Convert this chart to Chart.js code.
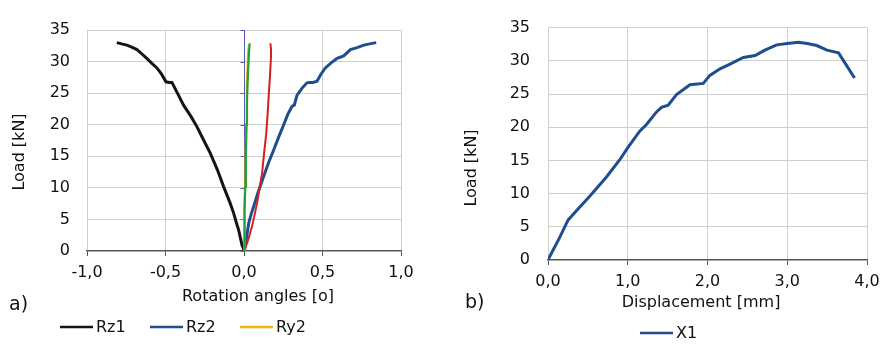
<!DOCTYPE html>
<html>
<head>
<meta charset="utf-8">
<script src="https://cdn.jsdelivr.net/npm/chart.js@4.4.0/dist/chart.umd.min.js"></script>
<style>
  html, body { margin: 0; padding: 0; background: #fff; }
  #wrap { position: relative; width: 880px; height: 345px; }
  canvas { position: absolute; top: 0; }
</style>
</head>
<body>
<div id="wrap">
  <canvas id="chartA" width="440" height="345" style="left:0"></canvas>
  <canvas id="chartB" width="440" height="345" style="left:440px"></canvas>
</div>
<script>
// --- a) rotation angles ---
const rz1Angle = [0, -0.005, -0.013, -0.022, -0.034, -0.05, -0.066, -0.09, -0.13, -0.17, -0.215, -0.26, -0.30, -0.34, -0.385, -0.42, -0.459, -0.475, -0.497, -0.525, -0.555, -0.59, -0.619, -0.65, -0.682, -0.715, -0.746, -0.78, -0.81];
const rz1Load  = [0, 0.5, 0.95, 2.0, 3.3, 4.6, 6.0, 7.7, 10.2, 12.9, 15.5, 17.7, 19.7, 21.4, 23.1, 24.8, 26.7, 26.7, 26.8, 28.0, 29.0, 29.8, 30.5, 31.2, 31.9, 32.3, 32.6, 32.8, 33.0];

const rz2Angle = [0, 0.004, 0.008, 0.018, 0.030, 0.045, 0.061, 0.09, 0.125, 0.155, 0.189, 0.22, 0.253, 0.28, 0.306, 0.32, 0.338, 0.37, 0.40, 0.412, 0.44, 0.465, 0.49, 0.518, 0.555, 0.593, 0.635, 0.678, 0.72, 0.763, 0.80, 0.842];
const rz2Load  = [0, 0.4, 0.7, 2.5, 4.4, 5.8, 7.0, 9.3, 11.8, 13.9, 16.0, 18.0, 20.0, 21.7, 22.9, 23.1, 24.7, 25.8, 26.6, 26.7, 26.7, 26.9, 28.0, 29.0, 29.8, 30.5, 30.9, 31.9, 32.2, 32.6, 32.8, 33.0];

const ry2Angle = [0, 0.001, 0.004, 0.007, 0.010, 0.014, 0.019, 0.024, 0.028, 0.030];
const ry2Load  = [0, 2.5, 7.0, 10.5, 13.4, 20.0, 26.6, 30.0, 32.0, 32.6];

const greenAngle = [0, 0.002, 0.005, 0.008, 0.012, 0.016, 0.019, 0.025, 0.031, 0.036];
const greenLoad  = [0, 2.8, 6.5, 10.2, 15.0, 20.0, 23.9, 28.0, 31.0, 32.9];

const redAngle = [0, 0.008, 0.019, 0.035, 0.051, 0.07, 0.087, 0.10, 0.115, 0.128, 0.142, 0.15, 0.157, 0.165, 0.172, 0.172, 0.168];
const redLoad  = [0, 0.5, 1.2, 2.5, 3.9, 6.0, 8.1, 10.2, 12.3, 15.5, 18.7, 21.5, 24.5, 27.5, 30.8, 32.0, 32.9];

// --- b) displacement ---
const x1Disp = [0, 0.02, 0.147, 0.251, 0.356, 0.523, 0.733, 0.90, 1.005, 1.15, 1.235, 1.361, 1.424, 1.507, 1.612, 1.78, 1.947, 2.03, 2.157, 2.282, 2.45, 2.596, 2.72, 2.868, 3.00, 3.14, 3.25, 3.37, 3.497, 3.643, 3.844];
const x1Load = [0, 0.5, 3.4, 6.0, 7.4, 9.6, 12.5, 15.1, 17.0, 19.4, 20.4, 22.3, 23.0, 23.3, 24.9, 26.4, 26.6, 27.8, 28.8, 29.5, 30.5, 30.8, 31.6, 32.4, 32.6, 32.8, 32.6, 32.3, 31.6, 31.2, 27.4];

const loadTicks = { min: 0, max: 35, step: 5 };

const FONT = "'DejaVu Sans', sans-serif";
const TEXT = '#111111';
const GRID = '#cfcfcf';
const AXIS = '#555555';

Chart.defaults.font.family = FONT;
Chart.defaults.color = TEXT;

const fmt = v => v.toFixed(1).replace('.', ',');
const toPoints = (xs, ys) => xs.map((x, i) => ({ x: x, y: ys[i] }));

const series = (label, xs, ys, color, width, order) => ({
    label: label,
    data: toPoints(xs, ys),
    borderColor: color,
    backgroundColor: color,
    borderWidth: width,
    showLine: true,
    pointRadius: 0,
    tension: 0,
    order: order
});

// titles, panel letter and legend drawn by hand so they sit where the original has them
const decor = {
    id: 'decor',
    afterDraw(chart, args, o) {
        const ctx = chart.ctx;
        ctx.save();
        ctx.fillStyle = TEXT;
        ctx.textBaseline = 'middle';
        ctx.font = `16px ${FONT}`;
        ctx.textAlign = 'center';
        ctx.fillText(o.xTitle, o.xTitleAt[0], o.xTitleAt[1]);

        ctx.save();
        ctx.translate(o.yTitleAt[0], o.yTitleAt[1]);
        ctx.rotate(-Math.PI / 2);
        ctx.fillText(o.yTitle, 0, 0);
        ctx.restore();

        ctx.font = `19px ${FONT}`;
        ctx.textAlign = 'left';
        ctx.fillText(o.panel, o.panelAt[0], o.panelAt[1]);

        ctx.font = `16px ${FONT}`;
        o.legend.forEach(item => {
            const ds = chart.data.datasets[item.index];
            ctx.strokeStyle = ds.borderColor;
            ctx.lineWidth = 2.5;
            ctx.beginPath();
            ctx.moveTo(item.x, o.legendY);
            ctx.lineTo(item.x + 33, o.legendY);
            ctx.stroke();
            ctx.fillStyle = TEXT;
            ctx.fillText(ds.label, item.x + 36, o.legendY + 1);
        });
        ctx.restore();
    }
};

// the thin vertical axis Excel drew at x = 0 in panel a)
const zeroAxis = {
    id: 'zeroAxis',
    beforeDatasetsDraw(chart) {
        const xs = chart.scales.x, ys = chart.scales.y;
        const px = Math.round(xs.getPixelForValue(0)) + 0.5;
        const ctx = chart.ctx;
        ctx.save();
        ctx.strokeStyle = '#5a5ab4';
        ctx.lineWidth = 1;
        ctx.beginPath();
        ctx.moveTo(px, ys.getPixelForValue(loadTicks.max));
        ctx.lineTo(px, ys.getPixelForValue(loadTicks.min));
        ys.ticks.forEach(t => {
            const py = Math.round(ys.getPixelForValue(t.value)) + 0.5;
            ctx.moveTo(px - 4, py);
            ctx.lineTo(px, py);
        });
        ctx.stroke();
        ctx.restore();
    }
};

const yScale = (width, pad) => ({
    type: 'linear',
    min: loadTicks.min,
    max: loadTicks.max,
    ticks: { stepSize: loadTicks.step, padding: pad, font: { size: 16 }, color: TEXT },
    grid: {
        color: c => (c.tick && c.tick.value === 0) ? 'rgba(0,0,0,0)' : GRID,
        drawTicks: false
    },
    border: { display: false },
    afterFit: s => { s.width = width; }
});

const xScale = (min, max, step, height) => ({
    type: 'linear',
    min: min,
    max: max,
    ticks: { stepSize: step, callback: fmt, padding: 7, font: { size: 16 }, color: TEXT, maxRotation: 0 },
    grid: { color: GRID, tickColor: AXIS, tickLength: 5 },
    border: { color: AXIS, width: 1.5 },
    afterFit: s => { s.height = height; s.paddingLeft = 0; s.paddingRight = 0; }
});

new Chart(document.getElementById('chartA'), {
    type: 'scatter',
    data: {
        datasets: [
            series('Rz1', rz1Angle, rz1Load, '#151515', 3, 5),
            series('Rz2', rz2Angle, rz2Load, '#1f4e8f', 3, 4),
            series('Ry2', ry2Angle, ry2Load, '#f5b400', 2.2, 2),
            series('Ry1', greenAngle, greenLoad, '#22a03a', 2.2, 1),
            series('Rx', redAngle, redLoad, '#d81e1e', 2, 3)
        ]
    },
    options: {
        responsive: false,
        animation: false,
        events: [],
        layout: { padding: { left: 0, right: 39, top: 30, bottom: 0 } },
        scales: {
            x: xScale(-1, 1, 0.5, 94),
            y: yScale(87, 17)
        },
        plugins: {
            legend: { display: false },
            tooltip: { enabled: false },
            decor: {
                xTitle: 'Rotation angles [o]', xTitleAt: [258, 297],
                yTitle: 'Load [kN]', yTitleAt: [20, 152],
                panel: 'a)', panelAt: [9, 305],
                legendY: 327,
                legend: [{ index: 0, x: 60 }, { index: 1, x: 150 }, { index: 2, x: 240 }]
            }
        }
    },
    plugins: [zeroAxis, decor]
});

new Chart(document.getElementById('chartB'), {
    type: 'scatter',
    data: {
        datasets: [
            series('X1', x1Disp, x1Load, '#1f4e8f', 3, 0)
        ]
    },
    options: {
        responsive: false,
        animation: false,
        events: [],
        layout: { padding: { left: 0, right: 13, top: 17, bottom: 0 } },
        scales: {
            x: xScale(0, 4, 1, 85),
            y: yScale(108, 18)
        },
        plugins: {
            legend: { display: false },
            tooltip: { enabled: false },
            decor: {
                xTitle: 'Displacement [mm]', xTitleAt: [261, 303],
                yTitle: 'Load [kN]', yTitleAt: [32, 168],
                panel: 'b)', panelAt: [25, 303],
                legendY: 333,
                legend: [{ index: 0, x: 200 }]
            }
        }
    },
    plugins: [decor]
});
</script>
</body>
</html>
